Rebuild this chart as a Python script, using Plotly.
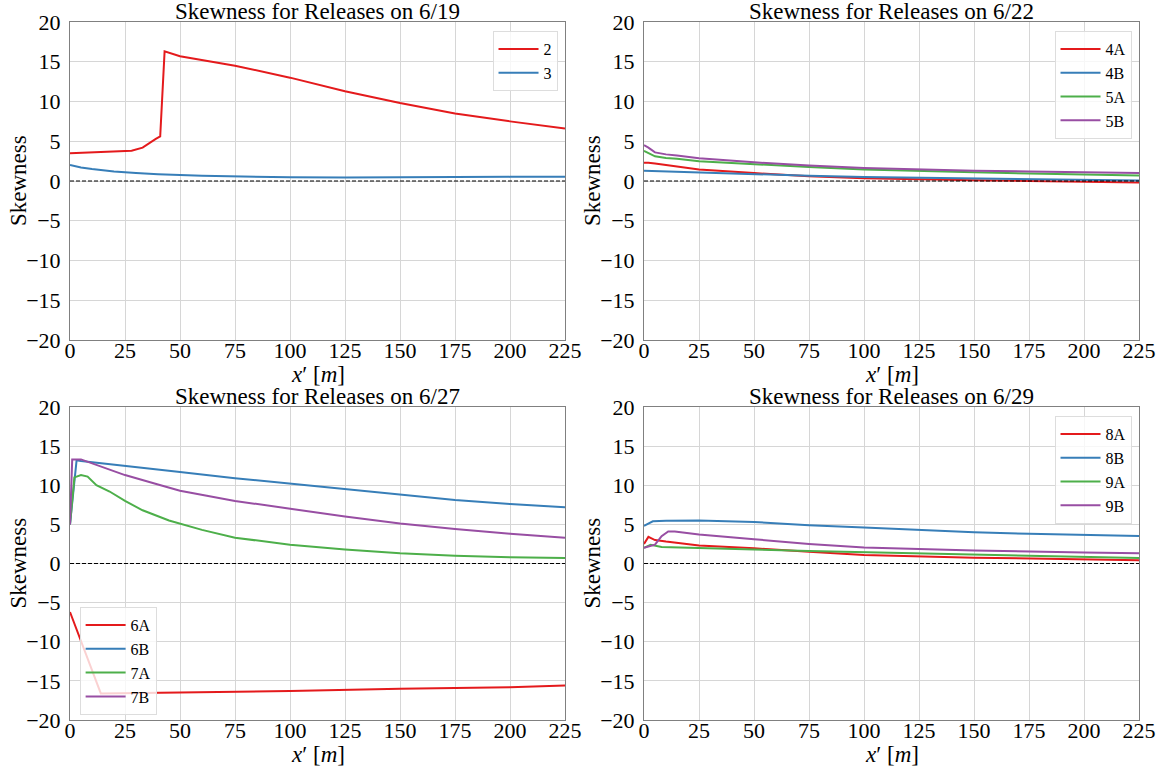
import plotly.graph_objects as go

# ---------------- data ----------------
x_2 = [0, 10, 20, 28, 33, 36, 39, 41, 43, 50, 60, 75, 100, 125, 150, 175, 200, 225]
y_2 = [3.5, 3.6, 3.7, 3.8, 4.2, 4.8, 5.3, 5.6, 16.3, 15.7, 15.2, 14.5, 13.0, 11.3, 9.8, 8.5, 7.5, 6.6]
x_3 = [0, 5, 10, 20, 30, 40, 60, 80, 100, 125, 150, 175, 200, 225]
y_3 = [2.0, 1.7, 1.5, 1.2, 1.0, 0.85, 0.65, 0.55, 0.48, 0.45, 0.45, 0.48, 0.52, 0.55]

x_top_r = [0, 2, 5, 10, 15, 25, 50, 75, 100, 125, 150, 175, 200, 225]
y_4A = [2.3, 2.3, 2.2, 2.0, 1.8, 1.45, 1.0, 0.6, 0.35, 0.2, 0.1, 0.0, -0.1, -0.2]
y_4B = [1.3, 1.28, 1.25, 1.2, 1.15, 1.05, 0.8, 0.65, 0.5, 0.4, 0.3, 0.2, 0.1, 0.05]
y_5A = [3.8, 3.5, 3.1, 2.9, 2.8, 2.5, 2.1, 1.75, 1.45, 1.25, 1.1, 0.95, 0.8, 0.7]
y_5B = [4.5, 4.2, 3.6, 3.35, 3.2, 2.85, 2.35, 1.95, 1.65, 1.45, 1.3, 1.2, 1.1, 1.0]

x_6A = [0, 14, 50, 100, 150, 200, 225]
y_6A = [-6.2, -16.6, -16.5, -16.3, -16.0, -15.8, -15.6]
x_6B = [0, 3, 5, 15, 30, 50, 75, 100, 125, 150, 175, 200, 225]
y_6B = [5.0, 13.2, 13.1, 12.8, 12.3, 11.7, 10.9, 10.2, 9.5, 8.8, 8.1, 7.6, 7.2]
x_7A = [0, 2, 5, 8, 12, 18, 25, 33, 45, 60, 75, 100, 125, 150, 175, 200, 225]
y_7A = [5.0, 11.0, 11.3, 11.1, 10.0, 9.2, 8.0, 6.8, 5.5, 4.3, 3.3, 2.4, 1.8, 1.3, 1.0, 0.8, 0.7]
x_7B = [0, 1, 5, 10, 15, 25, 40, 50, 75, 100, 125, 150, 175, 200, 225]
y_7B = [5.0, 13.3, 13.3, 12.8, 12.2, 11.3, 10.1, 9.3, 8.0, 7.0, 6.0, 5.1, 4.4, 3.8, 3.3]

x_8A = [0, 2, 5, 10, 25, 50, 75, 100, 150, 200, 225]
y_8A = [2.5, 3.4, 3.0, 2.8, 2.3, 1.95, 1.5, 1.1, 0.75, 0.5, 0.4]
x_8B = [0, 4, 10, 25, 50, 75, 100, 125, 150, 175, 200, 225]
y_8B = [4.8, 5.4, 5.45, 5.5, 5.3, 4.9, 4.6, 4.3, 4.0, 3.8, 3.65, 3.5]
x_9A = [0, 3, 8, 25, 50, 75, 100, 150, 200, 225]
y_9A = [2.0, 2.4, 2.1, 2.0, 1.8, 1.6, 1.45, 1.1, 0.85, 0.7]
x_9B = [0, 5, 8, 11, 14, 25, 50, 75, 100, 150, 200, 225]
y_9B = [2.0, 2.4, 3.5, 4.1, 4.1, 3.7, 3.1, 2.5, 2.05, 1.65, 1.4, 1.3]

x_ticks = [0, 25, 50, 75, 100, 125, 150, 175, 200, 225]
y_ticks = [-20, -15, -10, -5, 0, 5, 10, 15, 20]
titles = ["Skewness for Releases on 6/19", "Skewness for Releases on 6/22",
          "Skewness for Releases on 6/27", "Skewness for Releases on 6/29"]
x_title = "<i>x</i>′ [<i>m</i>]"
y_title = "Skewness"

RED, BLUE, GREEN, PURPLE = "#e41a1c", "#377eb8", "#4daf4a", "#984ea3"
FONT = "Liberation Serif"

panels = [
    [("2", x_2, y_2, RED), ("3", x_3, y_3, BLUE)],
    [("4A", x_top_r, y_4A, RED), ("4B", x_top_r, y_4B, BLUE),
     ("5A", x_top_r, y_5A, GREEN), ("5B", x_top_r, y_5B, PURPLE)],
    [("6A", x_6A, y_6A, RED), ("6B", x_6B, y_6B, BLUE),
     ("7A", x_7A, y_7A, GREEN), ("7B", x_7B, y_7B, PURPLE)],
    [("8A", x_8A, y_8A, RED), ("8B", x_8B, y_8B, BLUE),
     ("9A", x_9A, y_9A, GREEN), ("9B", x_9B, y_9B, PURPLE)],
]

W, H = 1158, 771
ML, MR, MT, MB = 70, 19, 22, 51
PW, PH = W - ML - MR, H - MT - MB
xdoms = [(0, (565 - ML) / PW), ((644 - ML) / PW, 1)]
ydoms = [((H - MB - 340) / PH, 1), (0, (H - MB - 407) / PH)]

fig = go.Figure()
legend_names = ["legend", "legend2", "legend3", "legend4"]

for i, series in enumerate(panels):
    r, c = divmod(i, 2)
    sfx = "" if i == 0 else str(i + 1)
    xa, ya = "x" + sfx, "y" + sfx
    for name, xs, ys, col in series:
        fig.add_trace(go.Scatter(x=xs, y=ys, mode="lines", name=name,
                                 line=dict(color=col, width=2),
                                 xaxis=xa, yaxis=ya, legend=legend_names[i]))
    fig.add_trace(go.Scatter(x=[0, 225], y=[0, 0], mode="lines", showlegend=False,
                             line=dict(color="black", width=1, dash="4px,2px"),
                             xaxis=xa, yaxis=ya, hoverinfo="skip"))
    axcommon = dict(showgrid=True, gridcolor="#d6d6d6", gridwidth=1,
                    showline=True, linecolor="#808080", linewidth=1, mirror=True,
                    ticks="",
                    tickfont=dict(family=FONT, size=22, color="black"),
                    zeroline=False, automargin=False)
    fig.layout["xaxis" + sfx] = dict(domain=xdoms[c], anchor=ya, range=[0, 225],
                                     tickvals=x_ticks, ticklabelstandoff=-9,
                                     **axcommon)
    fig.layout["yaxis" + sfx] = dict(domain=ydoms[r], anchor=xa, range=[-20, 20],
                                     tickvals=y_ticks, ticklabelstandoff=4,
                                     **axcommon)
    xmid = (xdoms[c][0] + xdoms[c][1]) / 2
    fig.add_annotation(text=titles[i], xref="paper", yref="paper",
                       x=xmid, y=ydoms[r][1], borderpad=0,
                       xanchor="center", yanchor="bottom", showarrow=False, yshift=-3,
                       font=dict(family=FONT, size=23, color="black"))
    # x-axis title
    fig.add_annotation(text=x_title, xref="paper", yref="paper", borderpad=0,
                       x=xmid, y=ydoms[r][0], xanchor="center", yanchor="middle",
                       yshift=-34, showarrow=False,
                       font=dict(family=FONT, size=23, color="black"))
    # y-axis title
    fig.add_annotation(text=y_title, xref="paper", yref="paper",
                       x=xdoms[c][0], y=(ydoms[r][0] + ydoms[r][1]) / 2,
                       xanchor="center", yanchor="middle", textangle=-90,
                       xshift=-52, showarrow=False,
                       font=dict(family=FONT, size=23, color="black"))

leg_common = dict(bgcolor="rgba(255,255,255,0.8)", bordercolor="#dddddd", borderwidth=1,
                  font=dict(family=FONT, size=16, color="black"), tracegroupgap=0,
                  itemwidth=40)
fig.update_layout(
    width=W, height=H, margin=dict(l=ML, r=MR, t=MT, b=MB, autoexpand=False),
    plot_bgcolor="white", paper_bgcolor="white", showlegend=True,
    legend=dict(x=xdoms[0][1] - 0.007, y=ydoms[0][1] - 0.013, xanchor="right", yanchor="top", **leg_common),
    legend2=dict(x=xdoms[1][1] - 0.007, y=ydoms[0][1] - 0.013, xanchor="right", yanchor="top", **leg_common),
    legend3=dict(x=xdoms[0][0] + 0.009, y=ydoms[1][0] + 0.007, xanchor="left", yanchor="bottom", **leg_common),
    legend4=dict(x=xdoms[1][1] - 0.007, y=ydoms[1][1] - 0.013, xanchor="right", yanchor="top", **leg_common),
)

fig.write_html("out.html", config={"displayModeBar": False},
               post_script="document.body.style.margin='0';")
